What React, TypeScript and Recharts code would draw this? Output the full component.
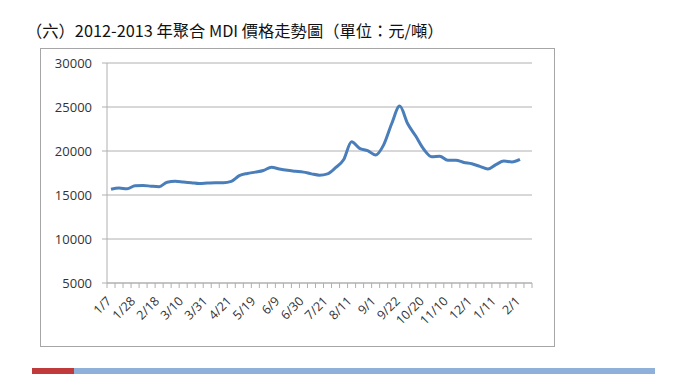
import React from 'react'
import { LineChart, Line, XAxis, YAxis, CartesianGrid } from 'recharts'

// weekly dates (2012 → 2013), one category per week, last one empty
const DATES = [
  '1/7', '1/14', '1/21', '1/28', '2/4', '2/11', '2/18', '2/25', '3/3', '3/10',
  '3/17', '3/24', '3/31', '4/7', '4/14', '4/21', '4/28', '5/12', '5/19', '5/26',
  '6/2', '6/9', '6/16', '6/23', '6/30', '7/7', '7/14', '7/21', '7/28', '8/4',
  '8/11', '8/18', '8/25', '9/1', '9/8', '9/15', '9/22', '10/6', '10/13', '10/20',
  '10/27', '11/3', '11/10', '11/17', '11/24', '12/1', '12/8', '12/22', '1/11', '1/18',
  '1/25', '2/1', '',
]

// 聚合 MDI 價格（元/噸）
const PRICES = [
  15650, 15800, 15700, 16050, 16080, 16000, 15950, 16450, 16550, 16480,
  16400, 16300, 16350, 16400, 16400, 16550, 17200, 17450, 17600, 17780,
  18150, 17950, 17800, 17700, 17600, 17400, 17250, 17400, 18100, 19000,
  21050, 20300, 20050, 19550, 20700, 23100, 25100, 23100, 21700, 20200,
  19350, 19400, 18950, 18950, 18700, 18550, 18250, 17950, 18450, 18850,
  18750, 19050,
]

const TICK_LABELS = [
  '1/7', '1/28', '2/18', '3/10', '3/31', '4/21', '5/19', '6/9', '6/30', '7/21',
  '8/11', '9/1', '9/22', '10/20', '11/10', '12/1', '1/11', '2/1',
]

const Y_TICKS = [5000, 10000, 15000, 20000, 25000, 30000]

const data = DATES.map((d, i) => ({ pos: i + 0.5, date: d, price: PRICES[i] ?? null }))

// tick marks sit between categories, labels at category centres
const boundaryTicks = DATES.map((_, i) => i).concat(DATES.length)
const labelTicks = TICK_LABELS.map((l) => DATES.indexOf(l) + 0.5)

const GRID = '#b0b0b0'
const FONT = '"Open Sans", "Noto Sans", sans-serif'

function XTick({ x, y, payload }: { x?: number; y?: number; payload?: { value: number } }) {
  if (x == null || y == null || !payload) return null
  const v = payload.value
  if (Number.isInteger(v)) {
    return <line x1={x} x2={x} y1={y - 5} y2={y} stroke={GRID} />
  }
  const label = DATES[Math.floor(v)]
  return (
    <g transform={`translate(${x + 1},${y + 14}) rotate(-45)`}>
      <text x={0} y={0} textAnchor="end" fill="#333" fontSize={12.5} fontFamily={FONT}>
        {label}
      </text>
    </g>
  )
}

export default function App() {
  return (
    <div style={{ position: 'absolute', left: 0, top: 0, width: 679, height: 390, background: '#fff' }}>
      <div
        style={{
          position: 'absolute',
          left: 26,
          top: 22,
          fontFamily: '"Noto Sans CJK TC", sans-serif',
          fontSize: 16.3,
          lineHeight: '17px',
          color: '#111',
          whiteSpace: 'nowrap',
        }}
      >
        （六）2012-2013 年聚合 MDI 價格走勢圖（單位：元/噸）
      </div>

      <div
        style={{
          position: 'absolute',
          left: 40,
          top: 48,
          width: 515,
          height: 299,
          boxSizing: 'border-box',
          border: '1px solid #a6a6a6',
        }}
      />

      <div style={{ position: 'absolute', left: 40, top: 48 }}>
        <LineChart width={515} height={299} data={data} margin={{ top: 15, right: 23, left: 7, bottom: 4 }}>
          <CartesianGrid vertical={false} stroke={GRID} />
          <XAxis
            type="number"
            dataKey="pos"
            domain={[0, DATES.length]}
            ticks={[...boundaryTicks, ...labelTicks]}
            interval={0}
            allowDecimals
            tickLine={false}
            tickSize={5}
            tickMargin={0}
            axisLine={{ stroke: GRID }}
            tick={<XTick />}
            height={60}
          />
          <YAxis
            domain={[5000, 30000]}
            ticks={Y_TICKS}
            interval={0}
            width={60}
            tickSize={5}
            tickMargin={10}
            axisLine={{ stroke: GRID }}
            tickLine={{ stroke: GRID }}
            tick={{ fill: '#333', fontSize: 13, fontFamily: FONT }}
          />
          <Line
            type="monotone"
            dataKey="price"
            stroke="#4a7ebb"
            strokeWidth={3}
            dot={false}
            isAnimationActive={false}
          />
        </LineChart>
      </div>

      <div style={{ position: 'absolute', left: 32, top: 368, width: 42, height: 6, background: '#c0393b' }} />
      <div style={{ position: 'absolute', left: 74, top: 368, width: 581, height: 6, background: '#8fb0d8' }} />
    </div>
  )
}
